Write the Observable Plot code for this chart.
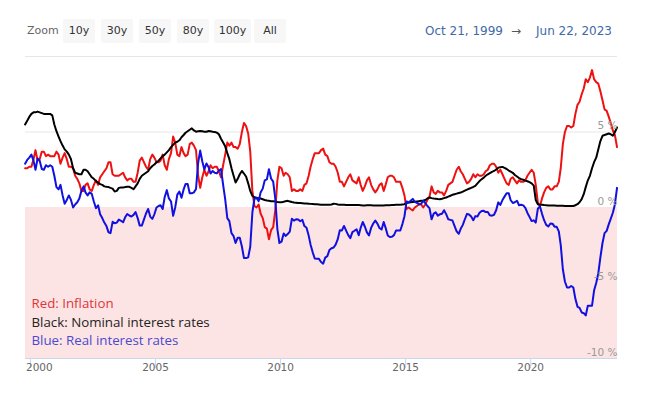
<!DOCTYPE html>
<html>
<head>
<meta charset="utf-8">
<script src="https://cdn.jsdelivr.net/npm/d3@7"></script>
<script src="https://cdn.jsdelivr.net/npm/@observablehq/plot@0.6"></script>
<style>
  html, body { margin: 0; padding: 0; background: #fff; }
  #wrap { position: relative; width: 645px; height: 401px; overflow: hidden; }
  #toolbar { position: absolute; left: 0; top: 0; width: 645px; height: 52px;
             font-family: "DejaVu Sans", sans-serif; font-size: 11px; }
  #toolbar .lbl { position: absolute; top: 19px; height: 24px; line-height: 24px; color: #666; }
  #toolbar .btn { position: absolute; top: 19px; height: 24px; line-height: 24px; background: #f7f7f7;
                  color: #333; text-align: center; border-radius: 2px; }
  #toolbar .date { position: absolute; top: 19px; height: 24px; line-height: 24px; color: #4169a8; font-size: 12px; }
  #chart svg { display: block; }
</style>
</head>
<body>
<div id="wrap">
  <div id="chart"></div>
  <div id="toolbar"></div>
</div>
<script>
// ---- data (monthly, Oct 1999 .. Jun 2023) ----
const firstMonth = "1999-10-15";
const rangeStart = "1999-10-21";
const rangeEnd = "2023-06-22";

const inflation = [
  2.6,2.6,2.7,
  2.7,3.2,3.8,3.1,3.2,3.7,3.7,3.4,3.5,3.4,3.4,3.4,
  3.7,3.5,2.9,3.3,3.6,3.2,2.7,2.7,2.6,2.1,1.9,1.6,
  1.1,1.1,1.5,1.6,1.2,1.1,1.5,1.8,1.5,2.0,2.2,2.4,
  2.6,3.0,3.0,2.2,2.1,2.1,2.1,2.2,2.3,2.0,1.8,1.9,
  1.9,1.7,1.7,2.3,3.1,3.3,3.0,2.7,2.5,3.2,3.5,3.3,
  3.0,3.0,3.1,3.5,2.8,2.5,3.2,3.6,4.7,4.3,3.5,3.4,
  4.0,3.6,3.4,3.5,4.2,4.3,4.1,3.8,2.1,1.3,2.0,2.5,
  2.1,2.4,2.8,2.6,2.7,2.7,2.4,2.0,2.8,3.5,4.3,4.1,
  4.3,4.0,4.0,3.9,4.2,5.0,5.6,5.4,4.9,3.7,1.1,0.1,
  0.0,0.2,-0.4,-0.7,-1.3,-1.4,-2.1,-1.5,-1.3,-0.2,1.8,2.7,
  2.6,2.1,2.3,2.2,2.0,1.1,1.2,1.1,1.1,1.2,1.1,1.5,
  1.6,2.1,2.7,3.2,3.6,3.6,3.6,3.8,3.9,3.5,3.4,3.0,
  2.9,2.9,2.7,2.3,1.7,1.7,1.4,1.7,2.0,2.2,1.8,1.7,
  1.6,2.0,1.5,1.1,1.4,1.8,2.0,1.5,1.2,1.0,1.2,1.5,
  1.6,1.1,1.5,2.0,2.1,2.1,2.0,1.7,1.7,1.7,1.3,0.8,
  -0.1,0.0,-0.1,-0.2,0.0,0.1,0.2,0.2,0.0,0.2,0.5,0.7,
  1.4,1.0,0.9,1.1,1.0,1.0,0.8,1.1,1.5,1.6,1.7,2.1,
  2.5,2.7,2.4,2.2,1.9,1.6,1.7,1.9,2.2,2.0,2.2,2.1,
  2.1,2.2,2.4,2.5,2.8,2.9,2.9,2.7,2.3,2.5,2.2,1.9,
  1.6,1.5,1.9,2.0,1.8,1.6,1.8,1.7,1.7,1.8,2.1,2.3,
  2.5,2.3,1.5,0.3,0.1,0.6,1.0,1.3,1.4,1.2,1.2,1.4,
  1.4,1.7,2.6,4.2,5.0,5.4,5.4,5.3,5.4,6.2,6.8,7.0,
  7.5,7.9,8.5,8.3,8.6,9.1,8.5,8.3,8.2,7.7,7.1,6.5,
  6.4,6.0,5.6,5.1,4.8,4.0
];

const nominal = [
  5.5,5.75,6.0,
  6.2,6.3,6.3,6.35,6.3,6.25,6.2,6.2,6.2,6.2,6.1,5.5,
  5.05,4.7,4.4,4.1,3.85,3.7,3.5,3.2,2.6,2.3,2.25,2.2,
  2.2,2.5,2.5,2.4,2.2,2.0,1.9,1.75,1.65,1.55,1.5,1.4,
  1.37,1.35,1.3,1.25,1.06,1.1,1.3,1.32,1.32,1.35,1.37,1.37,
  1.3,1.21,1.4,1.6,1.9,2.1,2.2,2.3,2.4,2.6,2.75,2.85,
  3.0,3.1,3.25,3.4,3.5,3.65,3.8,4.0,4.15,4.3,4.35,4.45,
  4.65,4.8,4.95,5.05,5.15,5.24,5.1,5.02,5.05,5.07,5.05,5.02,
  5.02,5.07,5.05,5.02,5.0,4.96,4.85,4.55,4.3,4.05,3.6,3.2,
  2.6,2.1,1.65,1.9,2.2,2.42,2.25,2.05,1.6,1.1,0.77,0.68,
  0.64,0.62,0.6,0.55,0.5,0.46,0.44,0.42,0.41,0.4,0.37,0.35,
  0.34,0.38,0.42,0.44,0.4,0.36,0.33,0.32,0.3,0.29,0.28,0.27,
  0.26,0.25,0.24,0.23,0.22,0.21,0.2,0.19,0.18,0.18,0.18,0.18,
  0.2,0.25,0.24,0.2,0.19,0.18,0.18,0.17,0.17,0.17,0.17,0.16,
  0.16,0.16,0.15,0.14,0.14,0.15,0.15,0.15,0.14,0.13,0.13,0.14,
  0.14,0.14,0.15,0.15,0.15,0.16,0.17,0.18,0.18,0.18,0.2,0.22,
  0.3,0.33,0.35,0.37,0.38,0.4,0.42,0.44,0.45,0.5,0.6,0.66,
  0.62,0.59,0.58,0.56,0.55,0.58,0.62,0.66,0.72,0.78,0.84,0.88,
  0.92,0.96,0.99,1.05,1.12,1.18,1.24,1.3,1.36,1.43,1.6,1.75,
  1.87,1.98,2.1,2.2,2.28,2.36,2.42,2.52,2.64,2.67,2.69,2.62,
  2.55,2.45,2.38,2.3,2.15,2.05,1.95,1.88,1.84,1.78,1.74,1.68,
  1.6,1.45,0.5,0.22,0.18,0.18,0.16,0.15,0.14,0.14,0.13,0.13,
  0.12,0.12,0.12,0.11,0.1,0.1,0.1,0.1,0.1,0.15,0.22,0.35,
  0.55,0.9,1.35,1.8,2.1,2.6,3.0,3.3,3.85,4.4,4.75,4.8,
  4.85,4.9,4.85,4.75,5.0,5.3
];

const real = [
  2.9,3.15,3.3,
  3.5,3.1,2.5,3.25,3.1,2.55,2.5,2.8,2.7,2.8,2.7,2.1,
  1.35,1.2,1.5,0.8,0.25,0.5,0.8,0.5,0.0,0.2,0.35,0.6,
  1.1,1.4,1.0,0.8,1.0,0.9,0.4,-0.05,0.15,-0.45,-0.7,-1.0,
  -1.23,-1.65,-1.7,-0.95,-1.04,-1.0,-0.8,-0.88,-0.98,-0.65,-0.43,-0.53,
  -0.6,-0.49,-0.3,-0.7,-1.2,-1.2,-0.8,-0.4,-0.1,-0.6,-0.75,-0.45,
  0.0,0.1,0.15,-0.1,0.7,1.15,0.6,0.4,-0.55,0.0,0.85,1.05,
  0.65,1.2,1.55,1.55,0.95,0.94,1.0,1.22,2.95,3.77,3.05,2.52,
  2.92,2.67,2.25,2.42,2.3,2.26,2.45,2.55,1.5,0.55,-0.7,-0.9,
  -1.7,-1.9,-2.35,-2.0,-2.0,-2.58,-3.35,-3.35,-3.3,-2.6,-0.33,0.58,
  0.64,0.42,1.0,1.25,1.8,1.86,2.54,1.92,1.71,0.6,-1.43,-2.35,
  -2.26,-1.72,-1.88,-1.76,-1.6,-0.74,-0.87,-0.78,-0.8,-0.91,-0.82,-1.23,
  -1.34,-1.85,-2.46,-2.97,-3.38,-3.39,-3.4,-3.61,-3.72,-3.32,-3.22,-2.82,
  -2.7,-2.65,-2.46,-2.1,-1.51,-1.52,-1.22,-1.53,-1.83,-2.03,-1.63,-1.54,
  -1.44,-1.84,-1.35,-0.96,-1.26,-1.65,-1.85,-1.35,-1.06,-0.87,-1.07,-1.36,
  -1.46,-0.96,-1.35,-1.85,-1.95,-1.94,-1.83,-1.52,-1.52,-1.52,-1.1,-0.58,
  0.4,0.33,0.45,0.57,0.38,0.3,0.22,0.24,0.45,0.3,0.1,-0.04,
  -0.78,-0.41,-0.32,-0.54,-0.45,-0.42,-0.18,-0.44,-0.78,-0.82,-0.86,-1.22,
  -1.58,-1.74,-1.41,-1.15,-0.78,-0.42,-0.46,-0.6,-0.84,-0.57,-0.6,-0.35,
  -0.23,-0.22,-0.3,-0.3,-0.52,-0.54,-0.48,-0.18,0.34,0.17,0.49,0.72,
  0.95,0.95,0.48,0.3,0.35,0.45,0.15,0.18,0.14,-0.02,-0.36,-0.62,
  -0.9,-0.85,-1.0,-0.08,0.08,-0.42,-0.84,-1.15,-1.26,-1.06,-1.07,-1.27,
  -1.28,-1.58,-2.48,-4.09,-4.9,-5.3,-5.3,-5.2,-5.3,-6.05,-6.58,-6.65,
  -6.95,-7.0,-7.15,-6.5,-6.5,-6.5,-5.5,-5.0,-4.35,-3.3,-2.35,-1.7,
  -1.55,-1.1,-0.75,-0.35,0.2,1.3
];

const yGridTicks = [-10, -5, 0, 5, 10];
const yLabelTicks = [-10, -5, 0, 5];
const xTickYears = [2000, 2005, 2010, 2015, 2020];
const negativeZone = [{from: -10, to: 0}];
const zoomButtons = ["10y", "30y", "50y", "80y", "100y", "All"];
const legendLines = ["Red: Inflation", "Black: Nominal interest rates", "Blue: Real interest rates"];
const legendColors = ["#e0343c", "#222222", "#4a4ad0"];
const seriesColors = {Inflation: "#ee1111", Nominal: "#000000", Real: "#1010e0"};

// ---- build table ----
const start = new Date(firstMonth);
const dates = inflation.map((_, i) => d3.utcMonth.offset(start, i));
const rows = [];
[["Inflation", inflation], ["Nominal", nominal], ["Real", real]].forEach(([name, arr]) => {
  arr.forEach((v, i) => rows.push({series: name, date: dates[i], value: v}));
});
const tickDates = xTickYears.map(y => new Date(Date.UTC(y, 0, 1)));
const axisFont = "DejaVu Sans, sans-serif";

const chart = Plot.plot({
  width: 645,
  height: 401,
  marginLeft: 25,
  marginRight: 28,
  marginTop: 56,
  marginBottom: 43,
  style: {fontFamily: axisFont, background: "transparent"},
  x: {type: "utc", domain: [new Date(rangeStart), new Date(rangeEnd)], axis: null},
  y: {domain: [-10, 10], axis: null},
  marks: [
    Plot.ruleY(yGridTicks, {stroke: "#e6e6e6", strokeWidth: 1}),
    Plot.rect(negativeZone, {y1: "from", y2: "to", fill: "#fde4e4"}),
    Plot.ruleY([yGridTicks[0]], {stroke: "#ccd6eb", strokeWidth: 1}),
    Plot.axisX({ticks: tickDates, tickSize: 10, tickFormat: () => "", stroke: "#ccd6eb"}),
    Plot.text(tickDates.slice(1), {x: d => d, frameAnchor: "bottom", dy: 12,
      text: d => String(d.getUTCFullYear()), fill: "#666", fontSize: 10.5}),
    Plot.text(tickDates.slice(0, 1), {frameAnchor: "bottom-left", textAnchor: "start", dx: 0.5, dy: 12,
      text: d => String(d.getUTCFullYear()), fill: "#666", fontSize: 10.5}),
    Plot.line(rows.filter(d => d.series === "Inflation"), {x: "date", y: "value", stroke: seriesColors.Inflation, strokeWidth: 2}),
    Plot.line(rows.filter(d => d.series === "Nominal"), {x: "date", y: "value", stroke: seriesColors.Nominal, strokeWidth: 2}),
    Plot.line(rows.filter(d => d.series === "Real"), {x: "date", y: "value", stroke: seriesColors.Real, strokeWidth: 2}),
    Plot.text(yLabelTicks, {y: d => d, frameAnchor: "right", textAnchor: "end", dx: 0, dy: -6,
      text: d => `${d} %`, fill: "#999", fontSize: 10.5}),
    Plot.text(legendLines, {frameAnchor: "left", textAnchor: "start", dx: 6,
      y: (d, i) => -6.4 - i * 1.22, text: d => d, fill: (d, i) => legendColors[i],
      fontSize: 13.3, fontFamily: "Open Sans, sans-serif"})
  ]
});
document.getElementById("chart").appendChild(chart);

// ---- toolbar (range selector) ----
const tb = d3.select("#toolbar");
tb.append("span").attr("class", "lbl").style("left", "27px").text("Zoom");
const btnLeft = [63, 101, 139, 177, 214, 254];
const btnWidth = [32, 32, 32, 32, 37, 32];
zoomButtons.forEach((b, i) => {
  tb.append("span").attr("class", "btn").style("left", btnLeft[i] + "px").style("width", btnWidth[i] + "px").text(b);
});
const fmt = d3.utcFormat("%b %-d, %Y");
tb.append("span").attr("class", "date").style("left", "425px").text(fmt(new Date(rangeStart)));
tb.append("span").attr("class", "date").style("left", "511px").style("color", "#555").text("→");
tb.append("span").attr("class", "date").style("right", "33px").text(fmt(new Date(rangeEnd)));
</script>
</body>
</html>
